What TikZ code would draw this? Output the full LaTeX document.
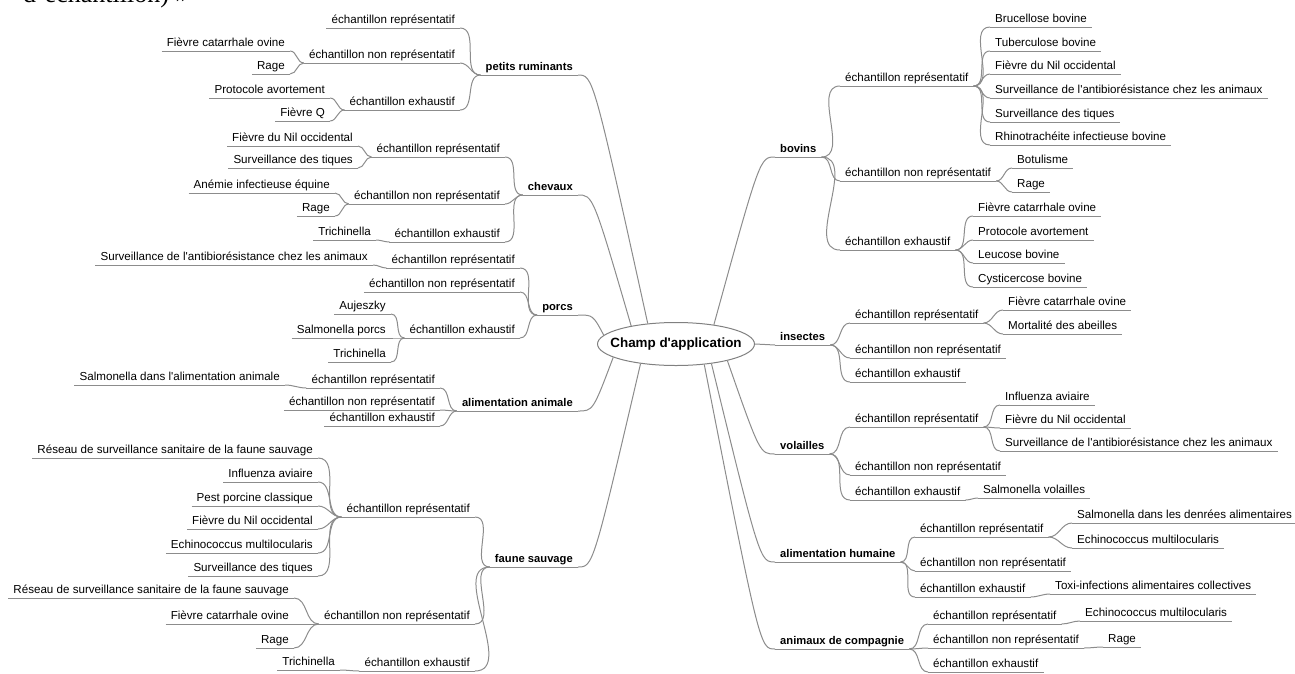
\documentclass[tikz,border=0pt]{standalone}
\usepackage{fontspec}
\newfontfamily\arialfont{Liberation Sans}
\newfontfamily\docfont{Liberation Serif}
\usetikzlibrary{shapes.geometric}

\tikzset{
  link/.style={draw=black!45, line width=1pt},
  lf/.style={font=\arialfont\fontsize{11.6}{13}\selectfont, inner xsep=5pt, inner ysep=2pt,
    text height=8.4pt, text depth=2.5pt,
    append after command={(\tikzlastnode.south west) edge[link] (\tikzlastnode.south east)}},
  subl/.style={lf, anchor=south east},
  subr/.style={lf, anchor=south west},
  topl/.style={subl, font=\arialfont\fontsize{11.2}{13}\selectfont\bfseries},
  topr/.style={subr, font=\arialfont\fontsize{11.2}{13}\selectfont\bfseries},
  hub/.style={ellipse, draw=black!50, line width=1pt, minimum width=157pt, minimum height=43pt, inner sep=0pt},
  hubtext/.style={font=\arialfont\fontsize{13.4}{15}\selectfont\bfseries},
}

\begin{document}
\begin{tikzpicture}[x=1pt, y=-1pt]
  \useasboundingbox (0,0) rectangle (1295,673);
  \clip (0,0) rectangle (1295,673);

  %%%%% cut-off line of the page above %%%%%
  \node[anchor=base west, inner sep=0pt, font=\docfont\fontsize{26}{30}\selectfont] (cut) at (23,2) {d’échantillon) »};

  \node[hub, label={[hubtext]center:Champ d'application}] (ctr) at (676,344) {};

  %%%%% LEFT %%%%%
  \node[topl] (pr) at (578,75) {petits ruminants};
  \node[topl] (ch) at (578,195) {chevaux};
  \node[topl] (po) at (578,315) {porcs};
  \node[topl] (aa) at (578,411) {alimentation animale};
  \node[topl] (fs) at (578,567) {faune sauvage};

  \node[subl] (prRep) at (460,28) {échantillon représentatif};
  \node[subl] (prNon) at (460,63) {échantillon non représentatif};
  \node[subl] (prExh) at (460,110) {échantillon exhaustif};
  \node[subl] (prNon1) at (290,51) {Fièvre catarrhale ovine};
  \node[subl] (prNon2) at (290,74) {Rage};
  \node[subl] (prExh1) at (330,98) {Protocole avortement};
  \node[subl] (prExh2) at (330,121) {Fièvre Q};

  \node[subl] (chRep) at (505,157) {échantillon représentatif};
  \node[subl] (chNon) at (505,204) {échantillon non représentatif};
  \node[subl] (chExh) at (505,242) {échantillon exhaustif};
  \node[subl] (chRep1) at (358,146) {Fièvre du Nil occidental};
  \node[subl] (chRep2) at (358,168) {Surveillance des tiques};
  \node[subl] (chNon1) at (335,193) {Anémie infectieuse équine};
  \node[subl] (chNon2) at (335,216) {Rage};
  \node[subl] (chExh1) at (376,240) {Trichinella};

  \node[subl] (poRep) at (520,268) {échantillon représentatif};
  \node[subl] (poNon) at (520,292) {échantillon non représentatif};
  \node[subl] (poExh) at (520,338) {échantillon exhaustif};
  \node[subl] (poRep1) at (373,265) {Surveillance de l'antibiorésistance chez les animaux};
  \node[subl] (poExh1) at (391,314) {Aujeszky};
  \node[subl] (poExh2) at (391,338) {Salmonella porcs};
  \node[subl] (poExh3) at (391,362) {Trichinella};

  \node[subl] (aaRep) at (440,388) {échantillon représentatif};
  \node[subl] (aaNon) at (440,410) {échantillon non représentatif};
  \node[subl] (aaExh) at (440,426) {échantillon exhaustif};
  \node[subl] (aaRep1) at (285,385) {Salmonella dans l'alimentation animale};

  \node[subl] (fsRep) at (475,517) {échantillon représentatif};
  \node[subl] (fsNon) at (475,624) {échantillon non représentatif};
  \node[subl] (fsExh) at (475,671) {échantillon exhaustif};
  \node[subl] (fsRep1) at (318,458) {Réseau de surveillance sanitaire de la faune sauvage};
  \node[subl] (fsRep2) at (318,482) {Influenza aviaire};
  \node[subl] (fsRep3) at (318,506) {Pest porcine classique};
  \node[subl] (fsRep4) at (318,529) {Fièvre du Nil occidental};
  \node[subl] (fsRep5) at (318,553) {Echinococcus multilocularis};
  \node[subl] (fsRep6) at (318,576) {Surveillance des tiques};
  \node[subl] (fsNon1) at (294,598) {Réseau de surveillance sanitaire de la faune sauvage};
  \node[subl] (fsNon2) at (294,624) {Fièvre catarrhale ovine};
  \node[subl] (fsNon3) at (294,648) {Rage};
  \node[subl] (fsExh1) at (340,670) {Trichinella};

  %%%%% RIGHT %%%%%
  \node[topr] (bo) at (775,157) {bovins};
  \node[topr] (ins) at (775,345) {insectes};
  \node[topr] (vo) at (775,454) {volailles};
  \node[topr] (ah) at (775,562) {alimentation humaine};
  \node[topr] (ac) at (775,649) {animaux de compagnie};

  \node[subr] (boRep) at (840,86) {échantillon représentatif};
  \node[subr] (boNon) at (840,181) {échantillon non représentatif};
  \node[subr] (boExh) at (840,250) {échantillon exhaustif};
  \node[subr] (boRep1) at (990,27) {Brucellose bovine};
  \node[subr] (boRep2) at (990,51) {Tuberculose bovine};
  \node[subr] (boRep3) at (990,74) {Fièvre du Nil occidental};
  \node[subr] (boRep4) at (990,98) {Surveillance de l'antibiorésistance chez les animaux};
  \node[subr] (boRep5) at (990,122) {Surveillance des tiques};
  \node[subr] (boRep6) at (990,145) {Rhinotrachéite infectieuse bovine};
  \node[subr] (boNon1) at (1012,168) {Botulisme};
  \node[subr] (boNon2) at (1012,192) {Rage};
  \node[subr] (boExh1) at (973,216) {Fièvre catarrhale ovine};
  \node[subr] (boExh2) at (973,240) {Protocole avortement};
  \node[subr] (boExh3) at (973,263) {Leucose bovine};
  \node[subr] (boExh4) at (973,287) {Cysticercose bovine};

  \node[subr] (inRep) at (850,323) {échantillon représentatif};
  \node[subr] (inNon) at (850,358) {échantillon non représentatif};
  \node[subr] (inExh) at (850,382) {échantillon exhaustif};
  \node[subr] (inRep1) at (1003,310) {Fièvre catarrhale ovine};
  \node[subr] (inRep2) at (1003,334) {Mortalité des abeilles};

  \node[subr] (voRep) at (850,427) {échantillon représentatif};
  \node[subr] (voNon) at (850,475) {échantillon non représentatif};
  \node[subr] (voExh) at (850,500) {échantillon exhaustif};
  \node[subr] (voRep1) at (1000,405) {Influenza aviaire};
  \node[subr] (voRep2) at (1000,428) {Fièvre du Nil occidental};
  \node[subr] (voRep3) at (1000,451) {Surveillance de l'antibiorésistance chez les animaux};
  \node[subr] (voExh1) at (978,498) {Salmonella volailles};

  \node[subr] (ahRep) at (915,537) {échantillon représentatif};
  \node[subr] (ahNon) at (915,571) {échantillon non représentatif};
  \node[subr] (ahExh) at (915,597) {échantillon exhaustif};
  \node[subr] (ahRep1) at (1072,523) {Salmonella dans les denrées alimentaires};
  \node[subr] (ahRep2) at (1072,548) {Echinococcus multilocularis};
  \node[subr] (ahExh1) at (1050,594) {Toxi-infections alimentaires collectives};

  \node[subr] (acRep) at (928,624) {échantillon représentatif};
  \node[subr] (acNon) at (928,648) {échantillon non représentatif};
  \node[subr] (acExh) at (928,672) {échantillon exhaustif};
  \node[subr] (acRep1) at (1080,621) {Echinococcus multilocularis};
  \node[subr] (acNon1) at (1103,647) {Rage};

  %%%%% centre to topics %%%%%
  \draw[link] (pr.south east) .. controls +(15,0) .. (ctr.144);
  \draw[link] (ch.south east) .. controls +(15,0) .. (ctr.158);
  \draw[link] (po.south east) .. controls +(15,0) .. (ctr.173);
  \draw[link] (aa.south east) .. controls +(15,0) .. (ctr.192);
  \draw[link] (fs.south east) .. controls +(15,0) .. (ctr.209);
  \draw[link] (bo.south west) .. controls +(-15,0) .. (ctr.27);
  \draw[link] (ctr.east) -- (ins.south west);
  \draw[link] (vo.south west) .. controls +(-15,0) .. (ctr.342);
  \draw[link] (ah.south west) .. controls +(-15,0) .. (ctr.331);
  \draw[link] (ac.south west) .. controls +(-15,0) .. (ctr.324);

  %%%%% branches, left %%%%%
  \foreach \k in {prRep,prNon,prExh} \draw[link] (pr.south west) to[out=180,in=0] (\k.south east);
  \foreach \k in {prNon1,prNon2} \draw[link] (prNon.south west) to[out=180,in=0] (\k.south east);
  \foreach \k in {prExh1,prExh2} \draw[link] (prExh.south west) to[out=180,in=0] (\k.south east);
  \foreach \k in {chRep,chNon,chExh} \draw[link] (ch.south west) to[out=180,in=0] (\k.south east);
  \foreach \k in {chRep1,chRep2} \draw[link] (chRep.south west) to[out=180,in=0] (\k.south east);
  \foreach \k in {chNon1,chNon2} \draw[link] (chNon.south west) to[out=180,in=0] (\k.south east);
  \draw[link] (chExh.south west) to[out=180,in=0] (chExh1.south east);
  \foreach \k in {poRep,poNon,poExh} \draw[link] (po.south west) to[out=180,in=0] (\k.south east);
  \draw[link] (poRep.south west) to[out=180,in=0] (poRep1.south east);
  \foreach \k in {poExh1,poExh2,poExh3} \draw[link] (poExh.south west) to[out=180,in=0] (\k.south east);
  \foreach \k in {aaRep,aaNon,aaExh} \draw[link] (aa.south west) to[out=180,in=0] (\k.south east);
  \draw[link] (aaRep.south west) to[out=180,in=0] (aaRep1.south east);
  \foreach \k in {fsRep,fsNon,fsExh} \draw[link] (fs.south west) to[out=180,in=0] (\k.south east);
  \foreach \k in {fsRep1,fsRep2,fsRep3,fsRep4,fsRep5,fsRep6} \draw[link] (fsRep.south west) to[out=180,in=0] (\k.south east);
  \foreach \k in {fsNon1,fsNon2,fsNon3} \draw[link] (fsNon.south west) to[out=180,in=0] (\k.south east);
  \draw[link] (fsExh.south west) to[out=180,in=0] (fsExh1.south east);

  %%%%% branches, right %%%%%
  \foreach \k in {boRep,boNon,boExh} \draw[link] (bo.south east) to[out=0,in=180] (\k.south west);
  \foreach \k in {boRep1,boRep2,boRep3,boRep4,boRep5,boRep6} \draw[link] (boRep.south east) to[out=0,in=180] (\k.south west);
  \foreach \k in {boNon1,boNon2} \draw[link] (boNon.south east) to[out=0,in=180] (\k.south west);
  \foreach \k in {boExh1,boExh2,boExh3,boExh4} \draw[link] (boExh.south east) to[out=0,in=180] (\k.south west);
  \foreach \k in {inRep,inNon,inExh} \draw[link] (ins.south east) to[out=0,in=180] (\k.south west);
  \foreach \k in {inRep1,inRep2} \draw[link] (inRep.south east) to[out=0,in=180] (\k.south west);
  \foreach \k in {voRep,voNon,voExh} \draw[link] (vo.south east) to[out=0,in=180] (\k.south west);
  \foreach \k in {voRep1,voRep2,voRep3} \draw[link] (voRep.south east) to[out=0,in=180] (\k.south west);
  \draw[link] (voExh.south east) to[out=0,in=180] (voExh1.south west);
  \foreach \k in {ahRep,ahNon,ahExh} \draw[link] (ah.south east) to[out=0,in=180] (\k.south west);
  \foreach \k in {ahRep1,ahRep2} \draw[link] (ahRep.south east) to[out=0,in=180] (\k.south west);
  \draw[link] (ahExh.south east) to[out=0,in=180] (ahExh1.south west);
  \foreach \k in {acRep,acNon,acExh} \draw[link] (ac.south east) to[out=0,in=180] (\k.south west);
  \draw[link] (acRep.south east) to[out=0,in=180] (acRep1.south west);
  \draw[link] (acNon.south east) to[out=0,in=180] (acNon1.south west);
\end{tikzpicture}
\end{document}
